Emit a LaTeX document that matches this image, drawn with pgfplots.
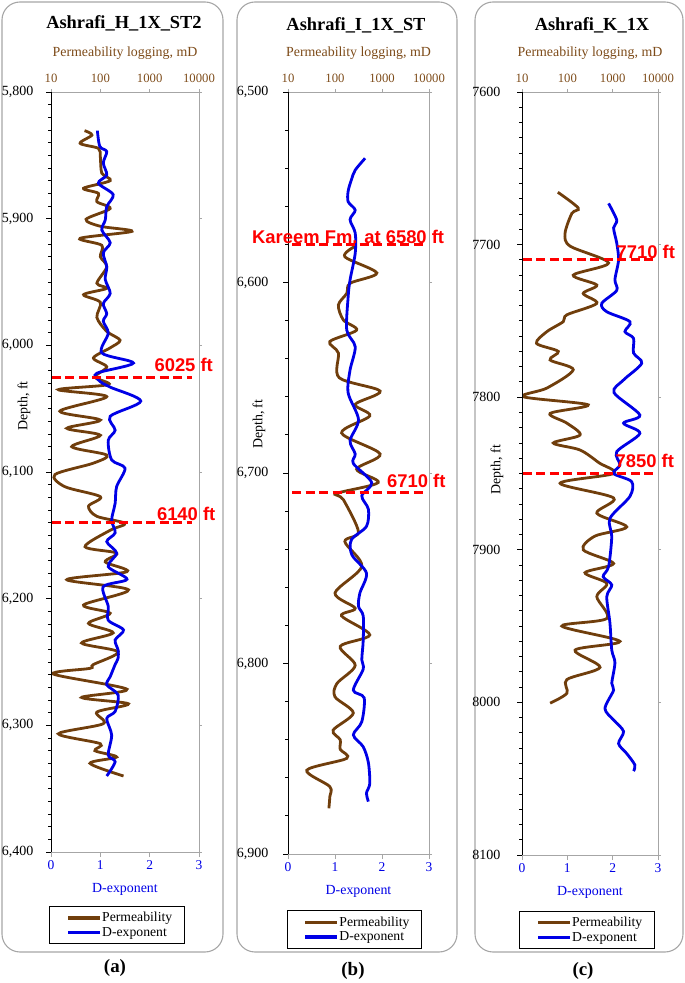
\documentclass[border=0pt]{standalone}
\usepackage{fontspec}
\setmainfont{Liberation Serif}
\newfontfamily\sansfont{Liberation Sans}
\usepackage{pgfplots}
\pgfplotsset{compat=1.18}

\definecolor{brn}{RGB}{112,62,12}
\definecolor{brntxt}{RGB}{125,75,25}
\definecolor{blu}{RGB}{0,0,230}
\definecolor{redl}{RGB}{255,0,0}
\definecolor{frame}{RGB}{166,166,166}

\newcommand{\fs}[1]{\fontsize{#1}{#1}\selectfont}

\tikzset{mlabel/.style={text=redl, font=\sansfont\bfseries\fs{18.4bp}}}

\pgfplotsset{
  toplog/.style={
    scale only axis, xmin=10, xmax=10000,
    y dir=reverse, axis x line*=top, axis y line*=right,
    xtick={10,100,1000,10000}, log ticks with fixed point,
    xminorticks=false, yminorticks=false, yticklabels={},
    /pgf/number format/1000 sep={},
    /pgf/number format/assume math mode=true,
    tick align=outside, major tick length=3bp,
    axis line style={frame, line width=0.9bp},
    tick style={frame, line width=0.9bp},
    xticklabel style={font=\fs{12.7bp}, text=brntxt, yshift=3bp},
    xlabel={Permeability logging, mD},
    xlabel style={font=\fs{13.9bp}, text=brntxt,
      at={(axis description cs:0.5,1)}, anchor=center, yshift=39bp},
  },
  botlin/.style={
    scale only axis, xmin=0, xmax=3, y dir=reverse,
    axis x line*=bottom, axis y line*=left, clip=false,
    xtick={0,1,2,3},
    /pgf/number format/assume math mode=true,
    tick align=outside, major tick length=5bp, minor tick length=3bp,
    x axis line style={frame, line width=0.9bp},
    y axis line style={black, line width=0.9bp},
    xtick style={frame, line width=0.9bp},
    ytick style={black, line width=0.9bp},
    xticklabel style={font=\fs{13.5bp}, text=blu},
    yticklabel style={font=\fs{14bp}, xshift=-9bp},
    xlabel={D-exponent},
    xlabel style={font=\fs{13.9bp}, text=blu,
      at={(axis description cs:0.5,0)}, anchor=center, yshift=-37bp},
    ylabel={Depth, ft},
    ylabel style={font=\fs{13.9bp}, anchor=center},
    legend image code/.code={\path (-7bp,0bp);
      \fill[#1, draw=none] (0bp,-1.7bp) rectangle (32bp,1.7bp);},
    legend cell align=left,
  },
  perm/.style={brn, line width=2.8bp, smooth},
  dexp/.style={blu, line width=2.8bp, smooth},
  redmark/.style={redl, line width=3bp, dash pattern=on 9bp off 4.5bp, forget plot},
  legbox/.style={anchor=north, draw=black, line width=0.9bp,
    font=\fs{13.7bp}, inner xsep=10bp, inner ysep=4bp},
}

\begin{document}
\begin{tikzpicture}
\useasboundingbox (0,0) rectangle (685bp,983bp);

% frames
\draw[frame, line width=1.1bp, rounded corners=18bp] (2bp,31bp) rectangle (223bp,981bp);
\draw[frame, line width=1.1bp, rounded corners=18bp] (237bp,31bp) rectangle (457bp,981bp);
\draw[frame, line width=1.1bp, rounded corners=18bp] (475bp,31bp) rectangle (683bp,981bp);

\node[font=\bfseries\fs{18.4bp}] at (124bp,960bp) {Ashrafi\_H\_1X\_ST2};
\node[font=\bfseries\fs{18.4bp}] at (356bp,958bp) {Ashrafi\_I\_1X\_ST};
\node[font=\bfseries\fs{18.4bp}] at (592bp,958bp) {Ashrafi\_K\_1X};
\node[font=\bfseries\fs{18.9bp}] at (115bp,15bp) {(a)};
\node[font=\bfseries\fs{18.9bp}] at (353bp,12bp) {(b)};
\node[font=\bfseries\fs{18.9bp}] at (583bp,12bp) {(c)};

% ---------------- (a)
\begin{axis}[xmode=log, toplog, at={(51bp,131bp)}, anchor=south west, width=148bp, height=760bp,
  ymin=5800, ymax=6400, ytick={5800,5900,...,6400}]
\addplot[perm] coordinates {
(47.9,5830.5) (67.6,5834) (38.9,5840.5) (91.2,5844.5) (100,5851) (107,5864) (158,5870)
(45.7,5876) (91.2,5880) (85.1,5886.6) (158,5892) (51.3,5900.5) (100,5906) (437,5910)
(38.9,5915.5) (107,5921) (100,5930) (135,5938) (85.1,5951) (135,5955) (45.7,5960)
(100,5966) (85.1,5978) (135,5989) (251,5996) (158,6002) (72.4,6010) (135,6017)
(77.6,6025) (145,6031) (14.1,6035) (135,6040.5) (15.1,6052) (100,6059) (20.9,6065.5)
(100,6071) (26.3,6080) (135,6086.6) (72.4,6093) (12.0,6102) (19.1,6111.6) (100,6119.5)
(57.5,6127) (85.1,6135) (316,6140.5) (158,6146) (49.0,6159) (214,6164) (126,6171)
(347,6178.7) (20.9,6185) (372,6193) (45.7,6205) (158,6211.5) (57.5,6219.5) (182,6227)
(41.7,6235) (229,6242) (72.4,6252) (61.7,6255) (11.2,6259.5) (347,6271.5) (41.7,6278)
(372,6283) (85.1,6289.5) (115,6298.7) (14.1,6306.7) (100,6314.5) (77.6,6320) (214,6325)
(61.7,6330) (295,6340)};
\end{axis}
\begin{axis}[botlin, at={(51bp,131bp)}, anchor=south west, width=148bp, height=760bp,
  ymin=5800, ymax=6400, ytick={5800,5900,...,6400}, minor y tick num=9,
  ylabel style={at={(axis description cs:-0.182,0.587)}},
  legend style={legbox, at={(0.446,-0.071)}}]
\addlegendimage{perm}
\addlegendentry{Permeability}
\addplot[dexp] coordinates {
(0.94,5830.5) (0.99,5843) (1.13,5847) (1.06,5856) (1.13,5865.5) (0.96,5872) (1.26,5881)
(1.13,5890.5) (1.10,5901) (1.03,5909) (1.20,5919) (1.06,5927) (1.13,5938) (1.10,5948)
(1.20,5959) (1.06,5967) (1.13,5975) (1.06,5981) (1.16,5990.5) (1.03,6006) (1.67,6014)
(0.93,6022) (0.98,6028) (1.2,6033) (1.82,6044) (1.2,6056) (1.30,6067) (1.16,6075)
(1.23,6090.5) (1.50,6097) (1.33,6111.6) (1.30,6124.7) (1.23,6138) (1.30,6148) (1.13,6155)
(1.33,6164) (1.16,6174.7) (1.54,6184.7) (1.06,6190.5) (1.16,6206) (1.16,6217) (1.47,6224.7)
(1.30,6232.6) (1.36,6240.5) (1.36,6247) (1.30,6252) (1.2,6261.6) (1.13,6268) (1.36,6276)
(1.30,6289) (1.13,6294.6) (1.23,6307.7) (1.16,6323.5) (1.30,6328.7) (1.13,6340)};
\addlegendentry{D-exponent}
\addplot[redmark] coordinates {(0.02,6025) (2.86,6025)};
\addplot[redmark] coordinates {(0.02,6140) (2.86,6140)};
\node[mlabel] at (axis cs:2.69,6015.5) {6025 ft};
\node[mlabel] at (axis cs:2.74,6132.8) {6140 ft};
\end{axis}

% ---------------- (b)
\begin{axis}[xmode=log, toplog, at={(288bp,129bp)}, anchor=south west, width=141bp, height=762bp,
  ymin=6500, ymax=6900, ytick={6500,6600,...,6900}]
\addplot[perm] coordinates {
(269,6581) (162,6586.5) (776,6595) (209,6600.4) (178,6605.7) (118,6611.8) (151,6619.7)
(288,6625) (77.6,6631) (118,6637) (123,6650) (912,6657) (269,6664) (550,6670)
(138,6679) (912,6690) (288,6698) (832,6705) (110,6710.7) (151,6714) (316,6731)
(162,6736) (372,6749) (100,6763) (269,6771) (138,6775) (550,6785)
(129,6791) (269,6801) (110,6810.5) (100,6817.5) (245,6826) (91.2,6835) (129,6840)
(129,6845) (178,6849.8) (25.1,6856) (77.6,6864.6) (77.6,6870) (74.1,6876)};
\end{axis}
\begin{axis}[botlin, at={(288bp,129bp)}, anchor=south west, width=141bp, height=762bp,
  ymin=6500, ymax=6900, ytick={6500,6600,...,6900}, minor y tick num=4,
  yticklabel style={xshift=-2bp},
  ylabel style={at={(axis description cs:-0.206,0.564)}},
  legend style={legbox, at={(0.47,-0.074)}}]
\addlegendimage{perm}
\addlegendentry{Permeability}
\addplot[dexp] coordinates {
(1.64,6534.8) (1.43,6541) (1.35,6546) (1.28,6552) (1.28,6557.6) (1.43,6562) (1.32,6567)
(1.43,6574) (1.43,6584.7) (1.32,6598.7) (1.28,6607.5) (1.25,6625) (1.43,6633.7)
(1.32,6646) (1.28,6658) (1.50,6672) (1.32,6683) (1.43,6690) (1.39,6695)
(1.78,6705) (1.57,6712) (1.71,6719) (1.67,6728) (1.35,6735)
(1.36,6743) (1.67,6752.6) (1.53,6763) (1.50,6770) (1.60,6775) (1.60,6788) (1.57,6798)
(1.60,6803) (1.39,6814) (1.62,6818) (1.57,6830.6) (1.39,6837.5) (1.60,6843.7) (1.71,6852)
(1.74,6863) (1.67,6868) (1.71,6872.5)};
\addlegendentry{D-exponent}
\addplot[redmark] coordinates {(0.09,6580) (2.92,6580)};
\addplot[redmark] coordinates {(0.09,6710) (2.92,6710)};
\node[mlabel] at (axis cs:1.28,6576) {Kareem Fm. at 6580 ft};
\node[mlabel] at (axis cs:2.73,6703.9) {6710 ft};
\end{axis}

% ---------------- (c)
\begin{axis}[xmode=log, toplog, at={(522bp,128bp)}, anchor=south west, width=136bp, height=763bp,
  ymin=7600, ymax=8100, ytick={7600,7700,...,8100}]
\addplot[perm] coordinates {
(61.7,7665.7) (174,7676) (126,7679.5) (89.1,7692.6) (115,7701) (813,7712) (135,7720)
(447,7726.5) (224,7732) (447,7738.5) (97.7,7746) (81.3,7750.5) (35.5,7757) (20.9,7764.7)
(63.1,7770) (41.7,7775.6) (135,7782) (35.5,7794) (10.7,7799.7) (288,7805) (41.7,7810.6)
(97.7,7817) (191,7824.8) (49.0,7830) (191,7834.6) (501,7843) (1047,7850) (69.2,7856.4)
(1047,7866) (447,7876) (2042,7885) (407,7891) (224,7900) (1047,7909) (245,7915)
(741,7922) (447,7930.7) (741,7945) (75.9,7950) (1445,7960) (148,7965.7) (525,7977)
(97.7,7985) (97.7,7994) (41.7,8000.5)};
\end{axis}
\begin{axis}[botlin, at={(522bp,128bp)}, anchor=south west, width=136bp, height=763bp,
  ymin=7600, ymax=8100, ytick={7600,7700,...,8100}, minor y tick num=9,
  /pgf/number format/1000 sep={},
  yticklabel style={xshift=-4bp},
  ylabel style={at={(axis description cs:-0.184,0.505)}},
  legend style={legbox, at={(0.478,-0.073)}}]
\addlegendimage{perm}
\addlegendentry{Permeability}
\addplot[dexp] coordinates {
(1.91,7673) (2.09,7684) (2.02,7689) (2.09,7699) (2.13,7710) (2.05,7723) (2.09,7730)
(1.76,7738.5) (1.87,7744) (2.38,7750.5) (2.27,7757) (2.46,7761.4) (2.46,7771) (2.64,7777.8)
(2.24,7788.7) (2.03,7797) (2.60,7811.7) (2.24,7817) (2.60,7823.7) (2.09,7835.7)
(2.16,7844.4) (2.02,7850) (2.42,7855.4) (2.38,7865) (1.94,7879.4) (1.98,7891.4)
(1.91,7911) (1.79,7917.6) (1.98,7923) (1.87,7930.7) (1.94,7948) (1.98,7965.7) (2.05,7974)
(1.98,7987.5) (2.02,7992) (1.83,8004) (2.02,8011.5) (2.24,8019) (2.13,8027) (2.31,8033.5)
(2.49,8041) (2.46,8045)};
\addlegendentry{D-exponent}
\addplot[redmark] coordinates {(0.02,7710) (2.98,7710)};
\addplot[redmark] coordinates {(0.02,7850) (2.98,7850)};
\node[mlabel] at (axis cs:2.73,7704.5) {7710 ft};
\node[mlabel] at (axis cs:2.71,7842) {7850 ft};
\end{axis}
\end{tikzpicture}
\end{document}
